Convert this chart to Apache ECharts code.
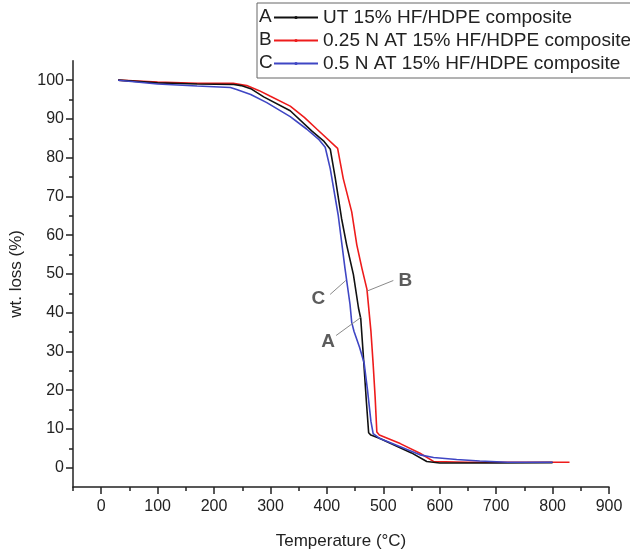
<!DOCTYPE html>
<html>
<head>
<meta charset="utf-8">
<script src="https://cdn.jsdelivr.net/npm/echarts@6/dist/echarts.min.js"></script>
<style>html,body{margin:0;padding:0;background:#fff}#c{width:630px;height:555px}</style>
</head>
<body>
<div id="c"></div>
<script>
// ---- data ----
const seriesNames = ['UT 15% HF/HDPE composite', '0.25 N AT 15% HF/HDPE composite', '0.5 N AT 15% HF/HDPE composite'];
const seriesLetters = ['A', 'B', 'C'];
const curveA = [[30,100],[100,99.3],[170,99],[235,98.9],[248,98.6],[265,97.8],[288,95.7],[335,92.1],[373,86.9],[395,84.2],[406,82.2],[415,74.6],[426,64.3],[435,57.5],[447,49.8],[456,41.2],[460,38.5],[465,28],[470,17],[474,9],[478,8.4],[494,7.5],[520,5.8],[550,3.8],[577,1.6],[600,1.2],[700,1.2],[800,1.3]];
const curveB = [[30,100],[100,99.5],[170,99.2],[234,99.2],[258,98.6],[280,97.3],[299,95.9],[335,93.3],[360,90.4],[382,87.4],[419,82.4],[429,74.6],[444,66],[453,57.5],[462,51.5],[471,46],[478,35.3],[482,26.7],[485.5,18.2],[488.5,9.2],[493,8.4],[530,6.2],[565,3.7],[589,1.6],[650,1.4],[830,1.4]];
const curveC = [[30,100],[100,99],[170,98.5],[229,98.1],[240,97.6],[265,96.3],[293.5,94.2],[335,90.6],[364,87.4],[385,84.8],[397,82.7],[406,77.1],[420,65.2],[432,51.5],[441,42.1],[444,37.5],[448,35.2],[458,31],[466,27],[472,20],[478,12],[482,8.8],[494,7.5],[530,5.4],[565,3.3],[589,2.6],[630,2.1],[671,1.7],[720,1.4],[800,1.4]];
const xMajorTicks = [0,100,200,300,400,500,600,700,800,900];
const xMinorTicks = [-50,50,150,250,350,450,550,650,750,850];
const yMajorTicks = [0,10,20,30,40,50,60,70,80,90,100];
const yMinorTicks = [5,15,25,35,45,55,65,75,85,95];
const annoLines = [[[517.8,48.3],[471.8,45.6]], [[405.7,44.7],[433.5,48.3]], [[416.3,34.1],[459.6,38.7]]];
const annoLabels = [['B',539,48.2],['C',385,43.5],['A',402,32.4]];

const colors = ['#111111', '#ee1c1c', '#3f46c4'];
const FONT = '"Liberation Sans", Arial, sans-serif';

const chart = echarts.init(document.getElementById('c'), null, {renderer: 'canvas'});

const curves = [curveA, curveB, curveC];
const series = curves.map((d, i) => ({
  name: seriesNames[i], type: 'line', data: d, xAxisIndex: 0, yAxisIndex: 0,
  symbol: 'circle', symbolSize: 3, showSymbol: false, smooth: false,
  lineStyle: {color: colors[i], width: 1.6}, itemStyle: {color: colors[i]},
  z: i === 2 ? 4 : (i === 0 ? 3 : 2), silent: true
}));
annoLines.forEach((seg) => {
  series.push({type: 'line', data: seg, xAxisIndex: 0, yAxisIndex: 0, symbol: 'none', silent: true,
    lineStyle: {color: '#8a8a8a', width: 1}, z: 5});
});
series.push({type: 'scatter', xAxisIndex: 0, yAxisIndex: 0, symbolSize: 0, silent: true, z: 6,
  data: annoLabels.map(a => ({name: a[0], value: [a[1], a[2]]})),
  label: {show: true, position: 'inside', formatter: p => p.name, fontSize: 19, fontWeight: 'bold', color: '#333', fontFamily: FONT}
});

const axisCommon = {
  axisLine: {show: true, onZero: false, lineStyle: {color: '#222', width: 1.5}},
  splitLine: {show: false}
};

const option = {
  animation: false,
  backgroundColor: '#fff',
  grid: {left: 72.8, right: 21, top: 60.8, bottom: 64.3, containLabel: false},
  xAxis: [
    Object.assign({}, axisCommon, {
      type: 'value', min: -50, max: 900, position: 'bottom',
      name: 'Temperature (°C)', nameLocation: 'middle', nameGap: 46,
      nameTextStyle: {fontSize: 17, color: '#222', fontFamily: FONT},
      axisTick: {show: true, customValues: xMajorTicks, length: 7, inside: false, lineStyle: {color: '#222', width: 1.5}},
      axisLabel: {show: true, customValues: xMajorTicks, margin: 12, fontSize: 16, color: '#222', fontFamily: FONT}
    }),
    {
      type: 'value', min: -50, max: 900, position: 'bottom', gridIndex: 0,
      axisLine: {show: false, onZero: false}, splitLine: {show: false}, axisLabel: {show: false},
      axisTick: {show: true, customValues: xMinorTicks, length: 4, lineStyle: {color: '#222', width: 1.5}}
    }
  ],
  yAxis: [
    Object.assign({}, axisCommon, {
      type: 'value', min: -5, max: 105, position: 'left',
      name: 'wt. loss (%)', nameLocation: 'middle', nameGap: 48, nameRotate: 90,
      nameTextStyle: {fontSize: 17, color: '#222', fontFamily: FONT},
      axisTick: {show: true, customValues: yMajorTicks, length: 7, lineStyle: {color: '#222', width: 1.5}},
      axisLabel: {show: true, customValues: yMajorTicks, margin: 9, fontSize: 16, color: '#222', fontFamily: FONT}
    }),
    {
      type: 'value', min: -5, max: 105, position: 'left', gridIndex: 0,
      axisLine: {show: false, onZero: false}, splitLine: {show: false}, axisLabel: {show: false},
      axisTick: {show: true, customValues: yMinorTicks, length: 4, lineStyle: {color: '#222', width: 1.5}}
    }
  ],
  legend: {
    show: true, orient: 'vertical', left: 257, top: 3,
    data: seriesNames,
    padding: [5, 12, 5, 16], itemGap: 4, itemWidth: 44, itemHeight: 4,
    borderColor: '#666', borderWidth: 1, backgroundColor: '#fff',
    textStyle: {fontSize: 19, color: '#222', fontFamily: FONT},
    selectedMode: false
  },
  graphic: seriesLetters.map((L, i) => ({
    type: 'text', left: 259, top: 7.5 + i * 23, z: 100,
    style: {text: L, fontSize: 19, fill: '#222', fontFamily: FONT}
  })),
  series: series
};
chart.setOption(option);
</script>
</body>
</html>
